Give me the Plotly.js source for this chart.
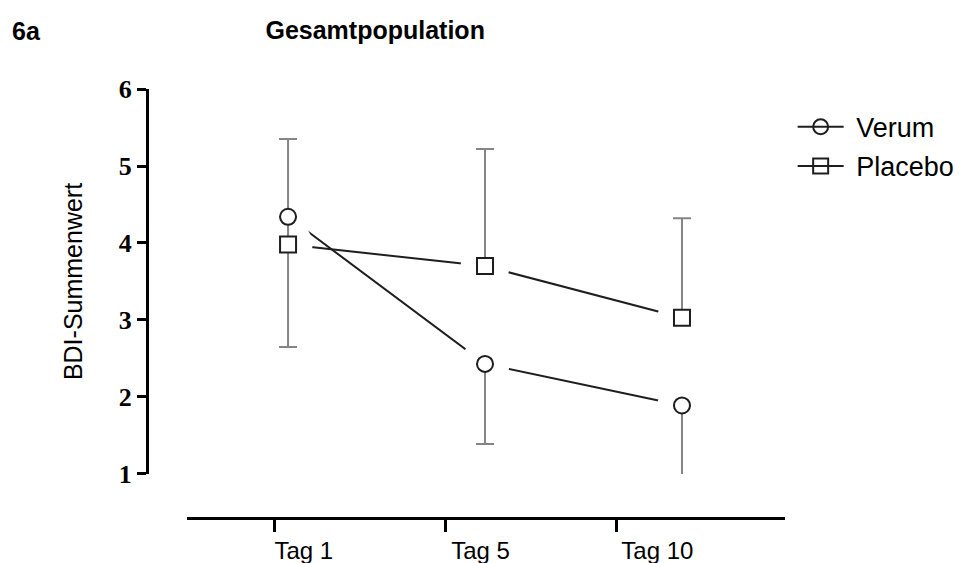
<!DOCTYPE html>
<html>
<head>
<meta charset="utf-8">
<script src="https://cdn.plot.ly/plotly-3.0.1.min.js"></script>
<style>html,body{margin:0;padding:0;background:#fff;}#chart{width:967px;height:563px;}</style>
</head>
<body>
<div id="chart"></div>
<script>
// ---- data ----
const categories = ["Tag 1", "Tag 5", "Tag 10"];
const verumMean = [4.34, 2.43, 1.89];
const verumErrDown = [1.69, 1.04, 0.92];
const placeboMean = [3.98, 3.70, 3.03];
const placeboErrUp = [1.37, 1.52, 1.29];
const yTicks = [1, 2, 3, 4, 5, 6];
const seriesNames = ["Verum", "Placebo"];

const dark = "#1e1e1e";
const gray = "#858585";
const zeros = categories.map(() => 0);
const empty = categories.map(() => null);

const traces = [
  // legend + connecting lines
  { x: categories, y: verumMean, name: "\u00a0" + seriesNames[0], mode: "lines+markers", legendgroup: "v",
    line: { color: dark, width: 2 }, marker: { symbol: "circle-open", size: 15, color: dark, line: { width: 2, color: dark } }, cliponaxis: false },
  { x: categories, y: placeboMean, name: "\u00a0" + seriesNames[1], mode: "lines+markers", legendgroup: "p",
    line: { color: dark, width: 2 }, marker: { symbol: "square-open", size: 15, color: dark, line: { width: 2, color: dark } }, cliponaxis: false },
  // white halos creating gaps around markers
  { x: categories, y: verumMean, mode: "markers", showlegend: false, hoverinfo: "skip",
    marker: { symbol: "circle", size: 49, color: "#ffffff" }, cliponaxis: false },
  { x: categories, y: placeboMean, mode: "markers", showlegend: false, hoverinfo: "skip",
    marker: { symbol: "circle", size: 49, color: "#ffffff" }, cliponaxis: false },
  // error bars
  { x: categories, y: verumMean, mode: "markers", showlegend: false, marker: { opacity: 0, size: 2 },
    error_y: { type: "data", symmetric: false, array: zeros, arrayminus: verumErrDown, color: gray, thickness: 2, width: 9 }, cliponaxis: false },
  { x: categories, y: placeboMean, mode: "markers", showlegend: false, marker: { opacity: 0, size: 2 },
    error_y: { type: "data", symmetric: false, array: placeboErrUp, arrayminus: zeros, color: gray, thickness: 2, width: 9 }, cliponaxis: false },
  // visible markers
  { x: categories, y: verumMean, mode: "markers", showlegend: false,
    marker: { symbol: "circle", size: 16, color: "#ffffff", line: { width: 2, color: dark } }, cliponaxis: false },
  { x: categories, y: placeboMean, mode: "markers", showlegend: false,
    marker: { symbol: "square", size: 16, color: "#ffffff", line: { width: 2, color: dark } }, cliponaxis: false },
  // carriers for the bottom axis (ticks) and its labels
  { x: categories, y: empty, xaxis: "x2", yaxis: "y", mode: "markers", showlegend: false, hoverinfo: "skip" },
  { x: categories, y: empty, xaxis: "x3", yaxis: "y", mode: "markers", showlegend: false, hoverinfo: "skip" }
];

const layout = {
  width: 967, height: 563,
  margin: { l: 147, r: 182, t: 89, b: 45, autoexpand: false },
  paper_bgcolor: "#fff", plot_bgcolor: "rgba(0,0,0,0)",
  font: { family: "Liberation Sans, Arial, sans-serif", color: "#000" },
  title: { text: "<b>Gesamtpopulation</b>", font: { size: 25, family: "Liberation Sans, Arial, sans-serif", color: "#000" },
    xref: "container", x: 0.388, xanchor: "center", yref: "container", y: 0.946, yanchor: "middle" },
  showlegend: true,
  legend: { x: 1.012, xanchor: "left", y: 0.968, yanchor: "top", traceorder: "grouped", tracegroupgap: 1,
    font: { size: 27, family: "Liberation Sans, Arial, sans-serif", color: "#000" }, bgcolor: "rgba(0,0,0,0)", itemwidth: 46 },
  xaxis: { type: "category", domain: [0.0627, 1], range: [-0.513, 2.523], showline: false, showgrid: false, zeroline: false,
    ticks: "", showticklabels: false, anchor: "y", fixedrange: true },
  xaxis2: { type: "category", overlaying: "x", anchor: "free", position: 0, range: [-0.51, 2.983],
    showline: true, linewidth: 3, linecolor: "#000", ticks: "outside", ticklen: 12, tickwidth: 3, tickcolor: "#000",
    tickvals: categories, showticklabels: false, showgrid: false, zeroline: false },
  xaxis3: { type: "category", overlaying: "x", anchor: "free", position: 0, range: [-0.661, 2.722],
    showline: false, ticks: "", tickvals: categories, ticktext: categories, showgrid: false, zeroline: false,
    tickfont: { size: 24, family: "Liberation Sans, Arial, sans-serif", color: "#000" }, ticklabelstandoff: 16 },
  yaxis: { domain: [0.1026, 1], range: [1, 6], anchor: "free", position: 0, showline: true, linewidth: 3, linecolor: "#000",
    ticks: "outside", ticklen: 9, tickwidth: 3, tickcolor: "#000", tickvals: yTicks, ticktext: yTicks.map(String),
    showgrid: false, zeroline: false,
    tickfont: { size: 26, family: "Liberation Serif, Times New Roman, serif", weight: "bold", color: "#000" },
    title: { text: "BDI-Summenwert", font: { size: 25, family: "Liberation Sans, Arial, sans-serif", color: "#000" }, standoff: 28 } },
  annotations: [
    { text: "<b>6a</b>", xref: "paper", yref: "paper", x: -0.2147, y: 1.136, xanchor: "left", yanchor: "middle", showarrow: false,
      font: { size: 25, family: "Liberation Sans, Arial, sans-serif", color: "#000" } }
  ]
};

Plotly.newPlot("chart", traces, layout, { displayModeBar: false, staticPlot: true });
</script>
</body>
</html>
